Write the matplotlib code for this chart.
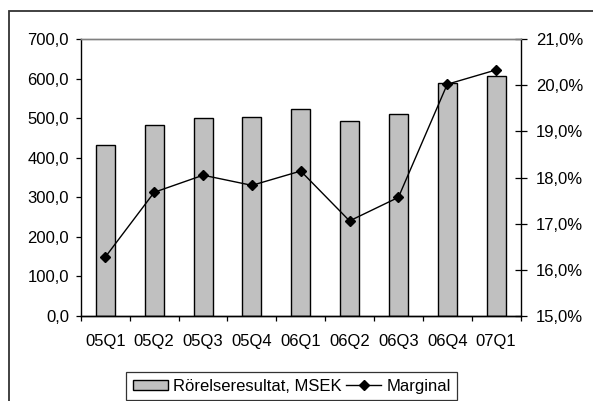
import matplotlib
matplotlib.use("Agg")
import matplotlib.pyplot as plt
import numpy as np
from matplotlib.patches import Rectangle
from matplotlib.lines import Line2D
from matplotlib.ticker import FuncFormatter, FixedLocator, NullFormatter

plt.rcParams['font.family'] = ['Liberation Sans', 'DejaVu Sans']

categories = ["05Q1", "05Q2", "05Q3", "05Q4", "06Q1", "06Q2", "06Q3", "06Q4", "07Q1"]
rorelseresultat = [432, 483, 500, 503, 524, 493, 510, 589, 607]
marginal = [16.28, 17.68, 18.05, 17.83, 18.14, 17.06, 17.57, 20.02, 20.33]
left_ticks = [0, 100, 200, 300, 400, 500, 600, 700]
right_ticks = [15, 16, 17, 18, 19, 20, 21]

W, H = 593, 401
fig = plt.figure(figsize=(W / 100, H / 100), dpi=100)
ax = fig.add_axes([81 / W, 1 - 316 / H, (520.5 - 81) / W, (316 - 39) / H])
ax2 = ax.twinx()

fs = 12
x = np.arange(len(categories))
bars = ax.bar(x, rorelseresultat, width=0.39, color="#c0c0c0", edgecolor="black",
              linewidth=1.0, zorder=2)
ax.set_ylim(0, 700)
ax.set_xlim(-0.5, len(categories) - 0.5)
ax.set_yticks(left_ticks)
ax.yaxis.set_major_formatter(FuncFormatter(lambda v, p: f"{v:.1f}".replace(".", ",")))
ax.tick_params(axis="y", direction="out", length=3.6, width=0.9, pad=5, labelsize=fs)
ax.set_xticks(x)
ax.set_xticklabels(categories)
ax.tick_params(axis="x", which="major", length=0, pad=13, labelsize=fs)
ax.xaxis.set_minor_locator(FixedLocator(np.arange(-0.5, len(categories), 1.0)))
ax.xaxis.set_minor_formatter(NullFormatter())
ax.tick_params(axis="x", which="minor", direction="out", length=3.6, width=0.9)

(line,) = ax2.plot(x, marginal, color="black", linewidth=1.0, marker="D",
                   markersize=5, markerfacecolor="black", zorder=3)
ax2.set_ylim(15, 21)
ax2.set_yticks(right_ticks)
ax2.yaxis.set_major_formatter(FuncFormatter(lambda v, p: f"{v:.1f}".replace(".", ",") + "%"))
ax2.tick_params(axis="y", direction="inout", length=8, width=0.9, pad=7, labelsize=fs)

for a in (ax, ax2):
    a.spines["top"].set_color("#808080")
    a.spines["top"].set_linewidth(1.0)
    for s in ("left", "right", "bottom"):
        a.spines[s].set_color("black")
        a.spines[s].set_linewidth(1.0)
ax2.spines["left"].set_visible(False)
ax.spines["right"].set_visible(False)

# outer chart frame
fig.patches.append(Rectangle((9 / W, -0.05), 1.1, 1 - 11 / H + 0.05,
                             transform=fig.transFigure, fill=False,
                             edgecolor="#333333", linewidth=1.3, zorder=0))

handles = [Rectangle((0, 0), 1, 1, facecolor="#c0c0c0", edgecolor="black", linewidth=1.0),
           Line2D([0], [0], color="black", linewidth=1.0, marker="D", markersize=5)]
leg = fig.legend(handles, ["Rörelseresultat, MSEK", "Marginal"], ncol=2,
                 loc="upper left", bbox_to_anchor=(126 / W, 1 - 372 / H),
                 borderaxespad=0, fontsize=fs, frameon=True, fancybox=False,
                 handlelength=2.1, handleheight=0.6, handletextpad=0.3,
                 columnspacing=0.3, borderpad=0.4)
leg.get_frame().set_edgecolor("black")
leg.get_frame().set_linewidth(0.9)

fig.savefig("out.png", dpi=100)
